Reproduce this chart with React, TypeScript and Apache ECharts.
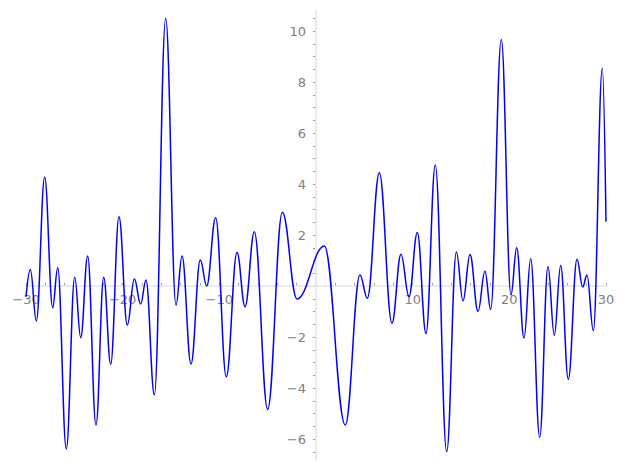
import React, { useEffect, useRef } from "react";
import * as echarts from "echarts";

// Curve turning points (x, y)
const curveX = [
  -30, -29.55, -28.93, -28.07, -27.24, -26.72, -25.83, -24.96, -24.34, -23.62,
  -22.76, -21.96, -21.24, -20.38, -19.52, -18.79, -18.14, -17.59, -16.72, -15.55,
  -14.48, -13.86, -12.93, -11.97, -11.31, -10.38, -9.28, -8.17, -7.34, -6.38,
  -5.0, -3.48, -1.97, 0.86, 3.03, 4.55, 5.31,
  6.55, 7.86, 8.79, 9.62, 10.48, 11.38, 12.34, 13.52, 14.52, 15.21,
  15.93, 16.76, 17.48, 18.07, 19.17, 20.17, 20.76, 21.52, 22.21, 23.14,
  24.0, 24.65, 25.31, 26.1, 27.0, 27.59, 28.03, 28.69, 29.62, 30,
];
const curveY = [
  -0.42, 0.65, -1.37, 4.26, -0.85, 0.72, -6.39, 0.34, -2.03, 1.18,
  -5.45, 0.34, -3.07, 2.72, -1.53, 0.27, -0.71, 0.24, -4.27, 10.5,
  -0.75, 1.18, -3.06, 1.02, 0.0, 2.68, -3.56, 1.31, -0.81, 2.13,
  -4.84, 2.89, -0.51, 1.57, -5.45, 0.43, -0.48,
  4.44, -1.46, 1.25, -0.42, 2.1, -1.86, 4.75, -6.5, 1.33, -0.58,
  1.24, -0.99, 0.58, -0.92, 9.67, -0.35, 1.5, -2.05, 1.07, -5.93,
  0.76, -1.93, 0.8, -3.66, 1.05, -0.04, 0.43, -1.75, 8.54, 2.52,
];

// Extent of the drawn axis spines (data units)
const xSpine = [-31.4, 31.1];
const ySpine = [-6.82, 10.82];

// Axis ranges and tick settings
const xRange = [-30, 30];
const yRange = [-6.5, 10.5];
const xTickStep = 2;
const xLabelStep = 10;
const yTickStep = 0.5;
const yLabelStep = 2;

const fmt = (v: number) => (v < 0 ? "\u2212" + Math.abs(v) : String(v));

export default function App() {
  const ref = useRef<HTMLDivElement>(null);
  useEffect(() => {
    if (!ref.current) return;
    const chart = echarts.init(ref.current, undefined, { renderer: "svg" });
    const curve = curveX.map((x, i) => [x, curveY[i]]);
    const labelStyle = {
      color: "#808080",
      fontSize: 13,
      fontFamily: "DejaVu Sans",
    };
    const L = 26, R = 21, T = 18.25, B = 18.25;
    const plotH = 470 - T - B;
    const zeroY = T + plotH * (yRange[1] / (yRange[1] - yRange[0]));
    const plotW = 627 - L - R;
    const zeroX = L + plotW * ((0 - xRange[0]) / (xRange[1] - xRange[0]));
    const hidden = { show: false };
    chart.setOption({
      animation: false,
      grid: [
        { left: L, right: R, top: T, bottom: B },
        { left: L, right: R, top: T, height: zeroY - T },
        { left: zeroX, width: 1, top: T, bottom: B },
      ],
      xAxis: [
        { type: "value", gridIndex: 0, min: xRange[0], max: xRange[1], ...hidden },
        {
          type: "value",
          gridIndex: 1,
          min: xRange[0],
          max: xRange[1],
          interval: xTickStep,
          axisLine: { show: false },
          axisTick: { show: true, inside: true, length: 3, lineStyle: { color: "#a0a0a0", width: 1 } },
          splitLine: { show: false },
          axisLabel: {
            ...labelStyle,
            margin: 7,
            hideOverlap: false,
            showMinLabel: true,
            showMaxLabel: true,
            formatter: (v: number) =>
              Math.abs(v % xLabelStep) < 1e-9 && v !== 0 ? fmt(v) : "",
          },
        },
        { type: "value", gridIndex: 2, min: 0, max: 1, ...hidden },
      ],
      yAxis: [
        { type: "value", gridIndex: 0, min: yRange[0], max: yRange[1], ...hidden },
        { type: "value", gridIndex: 1, min: 0, max: 1, ...hidden },
        {
          type: "value",
          gridIndex: 2,
          position: "left",
          min: yRange[0],
          max: yRange[1],
          interval: yTickStep,
          axisLine: { show: false },
          axisTick: { show: true, inside: false, length: 3, lineStyle: { color: "#a0a0a0", width: 1 } },
          splitLine: { show: false },
          axisLabel: {
            ...labelStyle,
            margin: 10,
            hideOverlap: false,
            showMinLabel: true,
            showMaxLabel: true,
            formatter: (v: number) =>
              Math.abs(v % yLabelStep) < 1e-9 && v !== 0 ? fmt(v) : "",
          },
        },
      ],
      series: [
        {
          type: "line",
          xAxisIndex: 0,
          yAxisIndex: 0,
          data: [[xSpine[0], 0], [xSpine[1], 0]],
          showSymbol: false,
          symbol: "none",
          silent: true,
          clip: false,
          z: 1,
          lineStyle: { color: "#e6e6e6", width: 1.6 },
        },
        {
          type: "line",
          xAxisIndex: 0,
          yAxisIndex: 0,
          data: [[0, ySpine[0]], [0, ySpine[1]]],
          showSymbol: false,
          symbol: "none",
          silent: true,
          clip: false,
          z: 1,
          lineStyle: { color: "#e6e6e6", width: 1.6 },
        },
        {
          type: "line",
          xAxisIndex: 0,
          yAxisIndex: 0,
          data: curve,
          showSymbol: false,
          symbol: "none",
          smooth: 0.4,
          smoothMonotone: "x",
          clip: false,
          z: 3,
          lineStyle: { color: "#0000ff", width: 1.5 },
        },
      ],
    });
    return () => chart.dispose();
  }, []);
  return (
    <div
      ref={ref}
      style={{ position: "fixed", left: 0, top: 0, width: 627, height: 470, background: "#ffffff" }}
    />
  );
}
